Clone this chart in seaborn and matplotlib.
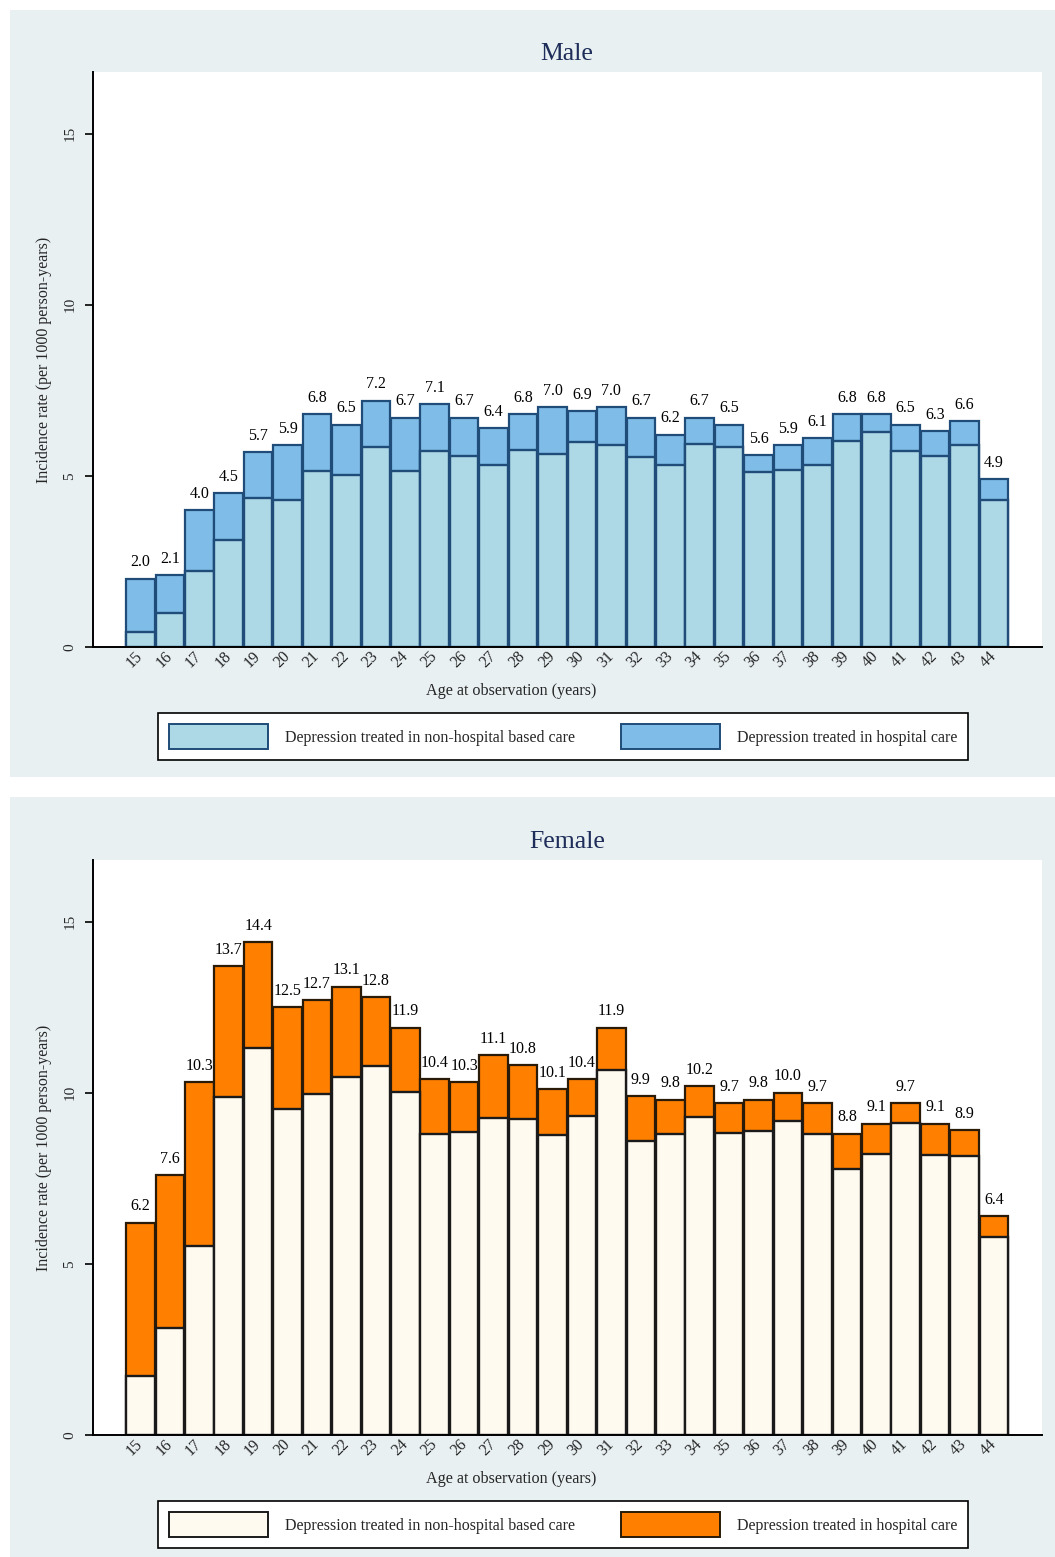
import matplotlib
matplotlib.use("Agg")
import matplotlib.pyplot as plt
import matplotlib.patches as mpatches
import seaborn as sns
import pandas as pd

ages = [str(a) for a in range(15, 45)]

male_total = [2.0, 2.1, 4.0, 4.5, 5.7, 5.9, 6.8, 6.5, 7.2, 6.7, 7.1, 6.7, 6.4, 6.8, 7.0,
              6.9, 7.0, 6.7, 6.2, 6.7, 6.5, 5.6, 5.9, 6.1, 6.8, 6.8, 6.5, 6.3, 6.6, 4.9]
male_nonhosp = [0.45, 0.98, 2.23, 3.13, 4.35, 4.30, 5.13, 5.03, 5.83, 5.13, 5.74, 5.58, 5.32, 5.76, 5.64,
                6.00, 5.91, 5.56, 5.32, 5.93, 5.83, 5.10, 5.18, 5.32, 6.02, 6.27, 5.74, 5.58, 5.91, 4.30]

female_total = [6.2, 7.6, 10.3, 13.7, 14.4, 12.5, 12.7, 13.1, 12.8, 11.9, 10.4, 10.3, 11.1, 10.8, 10.1,
                10.4, 11.9, 9.9, 9.8, 10.2, 9.7, 9.8, 10.0, 9.7, 8.8, 9.1, 9.7, 9.1, 8.9, 6.4]
female_nonhosp = [1.72, 3.14, 5.51, 9.89, 11.31, 9.52, 9.97, 10.46, 10.79, 10.01, 8.79, 8.84, 9.26, 9.23, 8.77,
                  9.31, 10.65, 8.60, 8.79, 9.28, 8.82, 8.87, 9.16, 8.79, 7.77, 8.22, 9.11, 8.19, 8.16, 5.78]

legend_labels = ["Depression treated in non-hospital based care", "Depression treated in hospital care"]
panel_titles = ["Male", "Female"]
xlabel = "Age at observation (years)"
ylabel = "Incidence rate (per 1000 person-years)"
yticks = [0, 5, 10, 15]

sns.set_style("white")
plt.rcParams["font.family"] = ["Liberation Serif", "DejaVu Serif"]

W, H = 1055, 1557
fig = plt.figure(figsize=(W / 100, H / 100), dpi=100)
fig.patch.set_facecolor("white")

BG = "#e8f0f2"
TITLE_C = "#1e2d59"


def fx(px):
    return px / W


def fy(py):
    return 1 - py / H


# panel backgrounds
fig.patches.append(mpatches.Rectangle((fx(10), fy(777)), fx(1045), 767 / H,
                                      transform=fig.transFigure, facecolor=BG, edgecolor="none", zorder=-10))
fig.patches.append(mpatches.Rectangle((fx(10), 0), fx(1045), 760 / H,
                                      transform=fig.transFigure, facecolor=BG, edgecolor="none", zorder=-10))

panels = [
    dict(total=male_total, low=male_nonhosp, up_c="#7fbde8", low_c="#add8e6",
         edge="#1f4c78", lowedge="#1f4c78", top=72, title=panel_titles[0]),
    dict(total=female_total, low=female_nonhosp, up_c="#ff7f00", low_c="#fffaf0",
         edge="#2a1a08", lowedge="#1a1a1a", top=860, title=panel_titles[1]),
]

for p in panels:
    top = p["top"]
    bottom = top + 575
    ax = fig.add_axes([fx(93), fy(bottom), fx(1041.7 - 93), 575 / H])
    ax.set_facecolor("white")
    df = pd.DataFrame({"age": ages, "total": p["total"], "low": p["low"]})
    sns.barplot(data=df, x="age", y="total", color=p["up_c"], saturation=1, width=0.97,
                edgecolor=p["edge"], linewidth=1.6, errorbar=None, ax=ax)
    sns.barplot(data=df, x="age", y="low", color=p["low_c"], saturation=1, width=0.97,
                edgecolor=p["lowedge"], linewidth=1.7, errorbar=None, ax=ax)
    ax.bar_label(ax.containers[0], labels=[f"{v:.1f}" for v in p["total"]], padding=6,
                 fontsize=11.5, color="black")
    ax.set_xlim(-1.61, 30.62)
    ax.set_ylim(0, 16.8)
    ax.set_yticks(yticks)
    ax.set_yticklabels([str(t) for t in yticks], rotation=90, va="center", fontsize=11)
    ax.tick_params(axis="y", length=6, width=1.2, color="black", pad=6, left=True)
    ax.tick_params(axis="x", length=0, pad=5)
    for lab in ax.get_xticklabels():
        lab.set_rotation(45)
        lab.set_ha("right")
        lab.set_va("center")
        lab.set_rotation_mode("anchor")
        lab.set_fontsize(11.5)
    ax.set_xlabel("")
    ax.set_ylabel("")
    for s in ["top", "right"]:
        ax.spines[s].set_visible(False)
    for s in ["left", "bottom"]:
        ax.spines[s].set_color("black")
        ax.spines[s].set_linewidth(1.4)

    fig.text(fx(567), fy(top - 18), p["title"], ha="center", va="center", fontsize=18.5, color=TITLE_C)
    fig.text(fx(511), fy(bottom + 44), xlabel, ha="center", va="center", fontsize=11.6)
    fig.text(fx(44), fy(top + 287.5), ylabel, ha="center", va="center", rotation=90, fontsize=11.5)

    handles = [mpatches.Patch(facecolor=p["low_c"], edgecolor=p["lowedge"], linewidth=1.4),
               mpatches.Patch(facecolor=p["up_c"], edgecolor=p["edge"], linewidth=1.4)]
    leg = fig.legend(handles, legend_labels, loc="center", ncol=2,
                     bbox_to_anchor=(fx(563), fy(bottom + 89.5)), bbox_transform=fig.transFigure,
                     fontsize=11.5, frameon=True, fancybox=False, handlelength=6.2, handleheight=2.0,
                     handletextpad=1.05, columnspacing=2.9, borderpad=0.7, borderaxespad=0)
    leg.get_frame().set_edgecolor("black")
    leg.get_frame().set_linewidth(1.2)
    leg.get_frame().set_facecolor("white")
    leg.get_frame().set_alpha(1)

fig.savefig("out.png", dpi=100)
